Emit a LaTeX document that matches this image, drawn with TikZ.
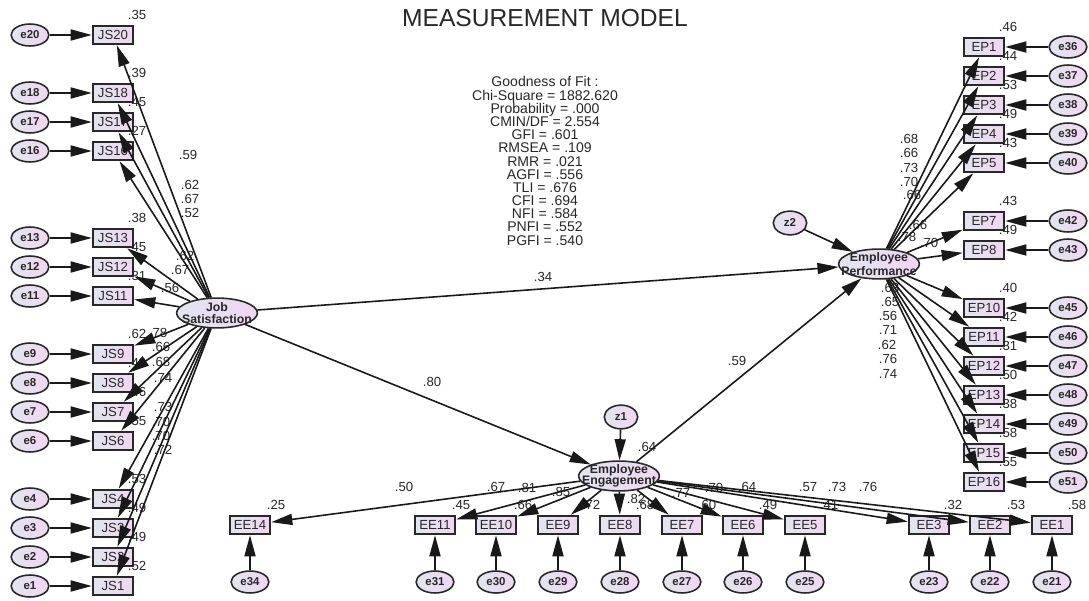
\documentclass[tikz,border=0pt]{standalone}
\usepackage{fontspec}
\setmainfont{Liberation Sans}
\usetikzlibrary{arrows.meta,calc,shapes.geometric}
\definecolor{boxleft}{RGB}{226,229,240}
\definecolor{boxright}{RGB}{240,214,241}
\definecolor{inkgray}{RGB}{40,40,40}

\begin{document}
\begin{tikzpicture}[x=0.02cm, y=-0.02cm,
    every node/.style={text=inkgray},
    obs/.style={draw=inkgray, line width=1.2pt, left color=boxleft, right color=boxright, minimum width=23pt, minimum height=10.5pt, inner sep=0pt, font=\fontsize{7.5}{8}\selectfont},
    err/.style={ellipse, draw=inkgray, line width=0.9pt, left color=boxleft, right color=boxright, minimum width=21.5pt, minimum height=12.5pt, inner sep=0pt, font=\bfseries\fontsize{6.5}{7}\selectfont},
    latent/.style={ellipse, draw=inkgray, line width=0.9pt, left color=boxleft, right color=boxright, minimum width=46pt, minimum height=17pt, inner sep=0pt},
    lattext/.style={align=center, font=\bfseries\fontsize{7}{6.4}\selectfont, inner sep=0pt},
    lbl/.style={font=\fontsize{7.5}{8}\selectfont, inner sep=0pt},
    arr/.style={-{Triangle[length=12pt,width=6.3pt]}, line width=0.9pt, draw=black!90},
  ]
  \fill[white] (0,0) rectangle (1089,601);
  \useasboundingbox (0,0) rectangle (1089,601);

  \node[font=\fontsize{14}{16}\selectfont] (title) at (545,18) {MEASUREMENT MODEL};
  \node[align=center, font=\fontsize{8}{7.5}\selectfont] (fit) at (545,161) {
    Goodness of Fit :\\
    Chi-Square = 1882.620\\
    Probability = .000\\
    CMIN/DF = 2.554\\
    GFI = .601\\
    RMSEA = .109\\
    RMR = .021\\
    AGFI = .556\\
    TLI = .676\\
    CFI = .694\\
    NFI = .584\\
    PNFI = .552\\
    PGFI = .540
  };

  % latent variables
  \node[latent, label={[lattext]center:{Job\\Satisfaction}}] (jobsat) at (217,313) {};
  \node[latent, label={[lattext]center:{Employee\\Performance}}] (perf) at (879,264) {};
  \node[latent, label={[lattext]center:{Employee\\Engagement}}] (engage) at (619,476) {};
  \node[err, minimum width=19pt, minimum height=13.5pt] (z1) at (621,417) {z1};
  \node[err, minimum width=19pt, minimum height=13.5pt] (z2) at (790,223) {z2};

  % job satisfaction items
  \foreach \i/\y/\r/\l/\lx/\ly in {20/35/.35/.59/188/155, 18/93/.39/.62/190/185, 17/122/.45/.67/190/199, 16/151/.27/.52/190/213,
      13/238/.38/.62/185/256, 12/267/.45/.67/180/270, 11/296/.31/.56/170/288,
      9/354/.62/.78/158/333, 8/383/.43/.66/161/347, 7/412/.46/.68/161/362, 6/441/.55/.74/163/378,
      4/499/.53/.73/163/407, 3/528/.49/.70/161/422, 2/557/.49/.70/161/436, 1/586/.52/.72/163/450} {
    \node[obs] (JS\i) at (113,\y) {JS\i};
    \node[err] (e\i) at (30,\y) {e\i};
    \node[lbl] (rJS\i) at ($(JS\i)+(24,-20)$) {\r};
    \node[lbl] (lJS\i) at (\lx,\ly) {\l};
  }

  % employee performance items
  \foreach \i/\y/\e/\r/\l/\lx/\ly in {1/47/36/.46/.68/909/139, 2/76/37/.44/.66/909/153, 3/105/38/.53/.73/909/168,
      4/134/39/.49/.70/909/182, 5/163/40/.43/.66/912/195, 7/221/42/.43/.66/918/225, 8/250/43/.49/.70/929/243,
      10/308/45/.40/.63/890/288, 11/337/46/.42/.65/890/302, 12/366/47/.31/.56/888/316, 13/395/48/.50/.71/888/330,
      14/424/49/.38/.62/887/345, 15/453/50/.58/.76/888/359, 16/482/51/.55/.74/888/374} {
    \node[obs] (EP\i) at (984,\y) {EP\i};
    \node[err] (e\e) at (1068,\y) {e\e};
    \node[lbl] (rEP\i) at ($(EP\i)+(24,-20)$) {\r};
    \node[lbl] (lEP\i) at (\lx,\ly) {\l};
  }

  % employee engagement items
  \foreach \i/\x/\e/\r/\rx/\l/\lx/\ly in {14/250/34/.25/276/.50/404/487, 11/435/31/.45/461/.67/496/487,
      10/496/30/.66/523/.81/527/488, 9/558/29/.72/591/.85/561/492, 8/620/28/.68/645/.82/636/499,
      7/682/27/.60/707/.77/681/493, 6/743/26/.49/768/.70/714/488, 5/805/25/.41/829/.64/747/487,
      3/929/23/.32/953/.57/808/487, 2/990/22/.53/1016/.73/837/487, 1/1052/21/.58/1077/.76/868/487} {
    \node[obs] (EE\i) at (\x,525) {EE\i};
    \node[err] (e\e) at (\x,582) {e\e};
    \node[lbl] (rEE\i) at (\rx,505) {\r};
    \node[lbl] (lEE\i) at (\lx,\ly) {\l};
  }

  % structural labels
  \node[lbl] (bJP) at (543,277) {.34};
  \node[lbl] (bJE) at (432,382) {.80};
  \node[lbl] (bEP) at (737,361) {.59};
  \node[lbl] (rEngage) at (647,447) {.64};
  \node[lbl] (rPerf) at (907,237) {.78};

  % arrows
  \foreach \i in {20,18,17,16,13,12,11,9,8,7,6,4,3,2,1} {
    \draw[arr] (e\i) -- (JS\i);
    \draw[arr] (jobsat) -- (JS\i);
  }
  \foreach \i/\e in {1/36,2/37,3/38,4/39,5/40,7/42,8/43,10/45,11/46,12/47,13/48,14/49,15/50,16/51} {
    \draw[arr] (e\e) -- (EP\i);
    \draw[arr] (perf) -- (EP\i);
  }
  \foreach \i/\e in {14/34,11/31,10/30,9/29,8/28,7/27,6/26,5/25,3/23,2/22,1/21} {
    \draw[arr] (e\e) -- (EE\i);
    \draw[arr] (engage) -- (EE\i);
  }
  \draw[arr] (jobsat) -- (perf);
  \draw[arr] (jobsat) -- (engage);
  \draw[arr] (engage) -- (perf);
  \draw[arr] (z1) -- (engage);
  \draw[arr] (z2) -- (perf);
\end{tikzpicture}
\end{document}
